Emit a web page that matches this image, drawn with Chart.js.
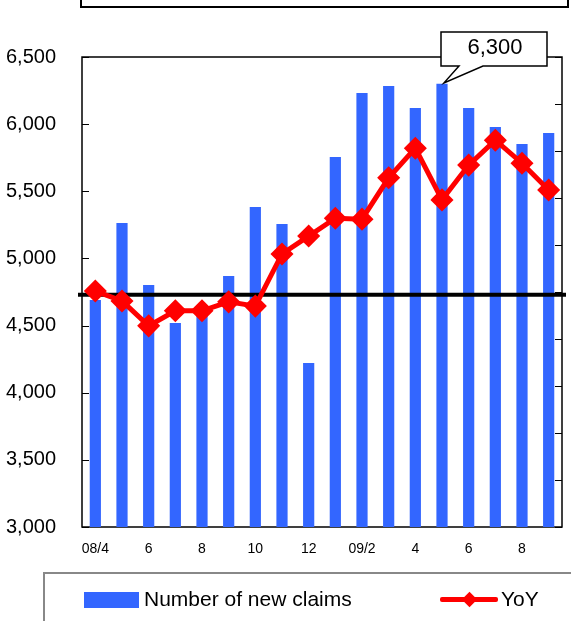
<!DOCTYPE html>
<html>
<head>
<meta charset="utf-8">
<script src="https://cdn.jsdelivr.net/npm/chart.js@4"></script>
<style>
  body { margin: 0; background: #fff; overflow: hidden; }
  #wrap { position: relative; width: 571px; height: 621px; }
  #topBox { position: absolute; left: 80px; top: -20px; width: 485px; height: 24px; border: 2px solid #000; }
  #legendBox { position: absolute; left: 43px; top: 572px; width: 600px; height: 100px; border: 2px solid #888; }
  .lg { position: absolute; font: 21px "Liberation Sans", Arial, sans-serif; color: #000; }
</style>
</head>
<body>
<div id="wrap">
  <canvas id="claimsChart" width="571" height="621"></canvas>
  <div id="topBox"></div>
  <div id="legendBox"></div>
  <div style="position:absolute;left:84px;top:592px;width:55px;height:16px;background:#3366ff;"></div>
  <div class="lg" style="left:144px;top:587px;">Number of new claims</div>
  <div style="position:absolute;left:440px;top:597px;width:58px;height:5px;background:#ff0000;border-radius:2px;"></div>
  <div style="position:absolute;left:464px;top:594px;width:11px;height:11px;background:#ff0000;transform:rotate(45deg);"></div>
  <div class="lg" style="left:501px;top:587px;">YoY</div>
</div>
<script>
// months 08/4 .. 09/9
const months = ["08/4", "5", "6", "7", "8", "9", "10", "11", "12",
  "09/1", "09/2", "3", "4", "5", "6", "7", "8", "9"];

// number of new claims (left axis)
const newClaims = [4690, 5264, 4802, 4519, 4610, 4869, 5383, 5256, 4221,
  5755, 6232, 6284, 6120, 6300, 6120, 5979, 5852, 5934];

// year-on-year, % (right axis, labels not shown)
const yoy = [100.2, 98.1, 92.8, 96.0, 96.0, 97.9, 97.0, 108.1, 111.9,
  115.7, 115.5, 124.3, 130.6, 119.6, 127.0, 132.3, 127.4, 121.7];

const leftTicks = [3000, 3500, 4000, 4500, 5000, 5500, 6000, 6500];
const rightTicks = [50, 60, 70, 80, 90, 100, 110, 120, 130, 140, 150];
const baseLine = 99.4;
const calloutIndex = 13;

// frame, inward ticks, base line and the callout
const decorations = {
  id: "decorations",
  beforeDatasetsDraw(chart) {
    const { ctx, chartArea: a, scales } = chart;
    ctx.save();
    ctx.strokeStyle = "#000";
    ctx.lineWidth = 1.5;
    ctx.strokeRect(a.left, a.top, a.right - a.left, a.bottom - a.top);
    ctx.lineWidth = 1;
    leftTicks.forEach((v) => {
      const y = Math.round(scales.y.getPixelForValue(v)) + 0.5;
      ctx.beginPath();
      ctx.moveTo(a.left, y);
      ctx.lineTo(a.left + 7, y);
      ctx.stroke();
    });
    rightTicks.forEach((v) => {
      const y = Math.round(scales.y1.getPixelForValue(v)) + 0.5;
      ctx.beginPath();
      ctx.moveTo(a.right - 7, y);
      ctx.lineTo(a.right, y);
      ctx.stroke();
    });
    ctx.restore();
  },
  afterDatasetDraw(chart, args) {
    // base line goes over the bars, under the YoY line
    if (args.index !== 1) return;
    const { ctx, chartArea: a, scales } = chart;
    const y = scales.y1.getPixelForValue(baseLine);
    ctx.save();
    ctx.strokeStyle = "#000";
    ctx.lineWidth = 4;
    ctx.beginPath();
    ctx.moveTo(a.left - 4, y);
    ctx.lineTo(a.right + 4, y);
    ctx.stroke();
    ctx.restore();
  },
  afterDatasetsDraw(chart) {
    const { ctx } = chart;
    const bar = chart.getDatasetMeta(1).data[calloutIndex];
    const bx = 441, by = 32, bw = 106, bh = 34;
    ctx.save();
    ctx.fillStyle = "#fff";
    ctx.strokeStyle = "#000";
    ctx.lineWidth = 1.5;
    ctx.beginPath();
    ctx.moveTo(bx, by);
    ctx.lineTo(bx + bw, by);
    ctx.lineTo(bx + bw, by + bh);
    ctx.lineTo(bx + 42, by + bh);
    ctx.lineTo(bar.x + 2, bar.y - 1);
    ctx.lineTo(bx + 18, by + bh);
    ctx.lineTo(bx, by + bh);
    ctx.closePath();
    ctx.fill();
    ctx.stroke();
    ctx.fillStyle = "#000";
    ctx.font = '22px "Liberation Sans", Arial, sans-serif';
    ctx.textAlign = "center";
    ctx.textBaseline = "middle";
    ctx.fillText(newClaims[calloutIndex].toLocaleString("en-US"), bx + bw / 2 + 1, by + 16);
    ctx.restore();
  }
};

const chart = new Chart(document.getElementById("claimsChart"), {
  data: {
    labels: months,
    datasets: [
      {
        type: "line",
        label: "YoY",
        data: yoy,
        yAxisID: "y1",
        borderColor: "#ff0000",
        backgroundColor: "#ff0000",
        borderWidth: 5,
        pointStyle: "rectRot",
        pointRadius: 8,
        pointHoverRadius: 8,
        tension: 0,
        order: 0
      },
      {
        type: "bar",
        label: "Number of new claims",
        data: newClaims,
        yAxisID: "y",
        backgroundColor: "#3366ff",
        barPercentage: 0.84,
        categoryPercentage: 0.5,
        order: 1
      }
    ]
  },
  options: {
    responsive: false,
    animation: false,
    layout: { autoPadding: false, padding: { top: 57, right: 9, left: 0, bottom: 0 } },
    plugins: { legend: { display: false }, tooltip: { enabled: false } },
    scales: {
      x: {
        grid: { display: false, drawTicks: false },
        border: { display: false },
        afterFit: (s) => {
          s.height = 94;
          s.paddingLeft = 0;
          s.paddingRight = 0;
        },
        ticks: {
          autoSkip: false,
          maxRotation: 0,
          padding: 14,
          color: "#000",
          font: { family: "Liberation Sans, Arial, sans-serif", size: 14 },
          callback: (v, i) => (i % 2 === 0 ? months[i] : "")
        }
      },
      y: {
        position: "left",
        min: 3000,
        max: 6500,
        grid: { display: false, drawTicks: false },
        border: { display: false },
        afterFit: (s) => { s.width = 82; },
        ticks: {
          stepSize: 500,
          padding: 26,
          color: "#000",
          font: { family: "Liberation Sans, Arial, sans-serif", size: 20 },
          callback: (v) => v.toLocaleString("en-US")
        }
      },
      y1: {
        position: "right",
        min: 50,
        max: 150,
        display: false
      }
    }
  },
  plugins: [decorations]
});
</script>
</body>
</html>
